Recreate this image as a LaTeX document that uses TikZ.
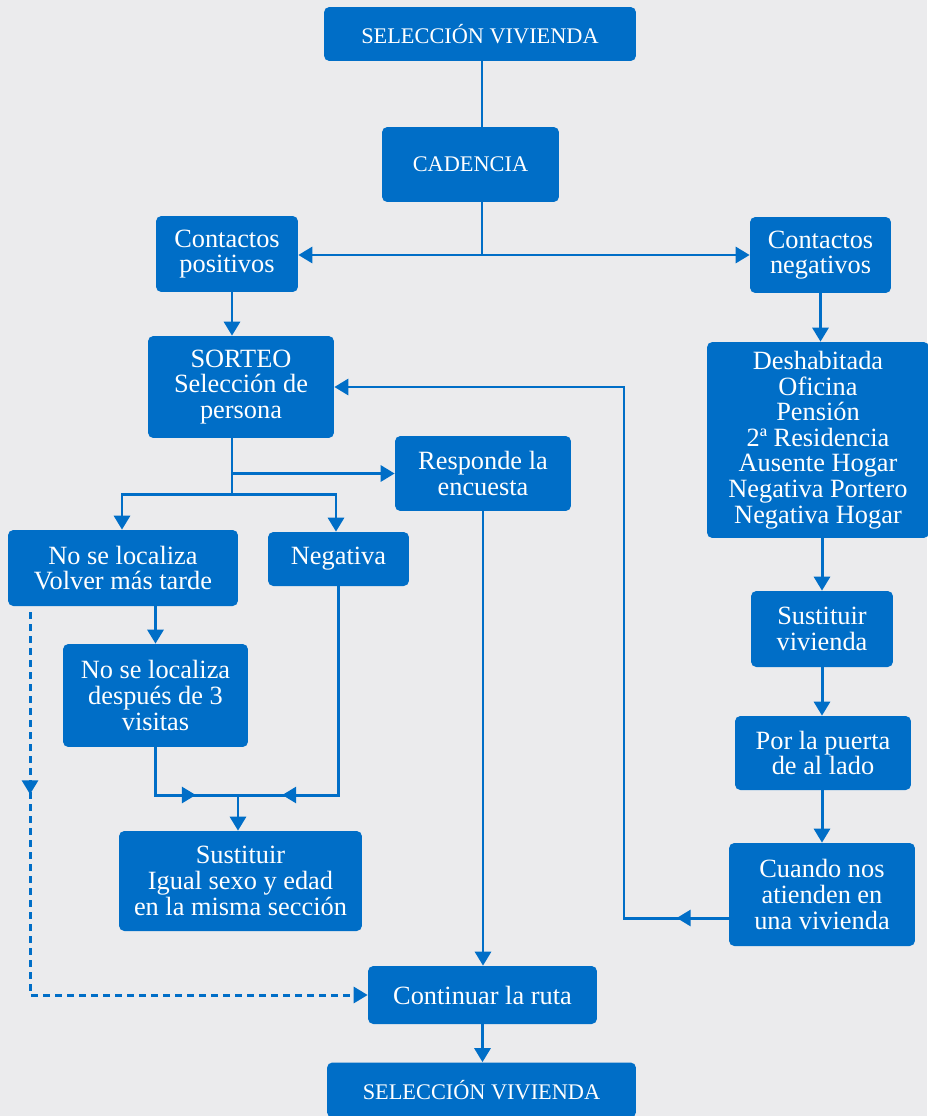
\documentclass[tikz,border=0pt]{standalone}
\usepackage{fontspec}
\setmainfont{Liberation Serif}
\usetikzlibrary{arrows.meta, decorations.markings}
\definecolor{boxblue}{HTML}{006EC7}
\definecolor{paper}{HTML}{EBEBED}

\begin{document}
\begin{tikzpicture}[
    x=0.02cm, y=-0.02cm,
    every node/.style={font=\fontsize{15}{14.6}\selectfont, align=center, text=white},
    flowbox/.style={rectangle, fill=boxblue, rounded corners=3pt, inner sep=2pt},
    capbox/.style={flowbox, font=\fontsize{12.7}{14}\selectfont},
    link/.style={color=boxblue, line width=1.7pt},
    arrow/.style={link, -{Triangle[length=0.28cm, width=0.32cm]}},
    midarrow/.style={postaction={decorate}, decoration={markings, mark=at position #1 with {\arrow{Triangle[length=0.28cm, width=0.32cm]}}}}
]

% Background
\fill[paper] (0,0) rectangle (927,1116);
\useasboundingbox (0,0) rectangle (927,1116);

% Boxes
\node (sel1) [capbox, minimum width=6.24cm, minimum height=1.08cm] at (480,34) {SELECCIÓN VIVIENDA};
\node (cadencia) [capbox, minimum width=3.54cm, minimum height=1.5cm] at (470.5,164.5) {CADENCIA};
\node (cpos) [flowbox, minimum width=2.84cm, minimum height=1.52cm] at (227,254) {Contactos\\positivos};
\node (cneg) [flowbox, minimum width=2.82cm, minimum height=1.52cm] at (820.5,255) {Contactos\\negativos};
\node (sorteo) [flowbox, minimum width=3.72cm, minimum height=2.04cm] at (241,387) {SORTEO\\Selección de\\persona};
\node (lista) [flowbox, minimum width=4.44cm, minimum height=3.92cm] at (818,440) {Deshabitada\\Oficina\\Pensión\\2ª Residencia\\Ausente Hogar\\Negativa Portero\\Negativa Hogar};
\node (responde) [flowbox, minimum width=3.52cm, minimum height=1.5cm] at (483,473.5) {Responde la\\encuesta};
\node (nolocal) [flowbox, minimum width=4.6cm, minimum height=1.52cm] at (123,568) {No se localiza\\Volver más tarde};
\node (negativa) [flowbox, minimum width=2.82cm, minimum height=1.08cm] at (338.5,559) {Negativa};
\node (nolocal3) [flowbox, minimum width=3.7cm, minimum height=2.06cm] at (155.5,695.5) {No se localiza\\después de 3\\visitas};
\node (sust1) [flowbox, minimum width=4.86cm, minimum height=2cm] at (240.5,881) {Sustituir\\Igual sexo y edad\\en la misma sección};
\node (sustviv) [flowbox, minimum width=2.84cm, minimum height=1.52cm] at (822,629) {Sustituir\\vivienda};
\node (puerta) [flowbox, minimum width=3.52cm, minimum height=1.48cm] at (823,753) {Por la puerta\\de al lado};
\node (cuando) [flowbox, minimum width=3.72cm, minimum height=2.06cm] at (822,894.5) {Cuando nos\\atienden en\\una vivienda};
\node (continuar) [flowbox, minimum width=4.58cm, minimum height=1.16cm] at (482.5,995) {Continuar la ruta};
\node (sel2) [capbox, minimum width=6.18cm, minimum height=1.1cm] at (481.5,1090) {SELECCIÓN VIVIENDA};

% Junctions
\coordinate (split) at (482,255);
\coordinate (fork) at (232,494);
\coordinate (join) at (238,795);
\coordinate (back) at (624,0);

% Arrows
\draw [link] ([xshift=0.04cm]sel1.south) -- ([xshift=0.04cm]sel1.south |- cadencia.north);
\draw [link] (cadencia.south -| split) -- (split);
\draw [arrow] (split) -- (cpos.east |- split);
\draw [arrow] (split) -- (cneg.west |- split);
\draw [arrow] ([xshift=0.1cm]cpos.south) -- ([xshift=0.1cm]cpos.south |- sorteo.north);
\draw [link] (sorteo.south -| fork) -- (fork);
\draw [arrow] (fork |- responde.west) -- (responde.west);
\draw [arrow] (fork) -| ([xshift=-0.02cm]nolocal.north);
\draw [arrow] (fork) -| ([xshift=-0.05cm]negativa.north);
\draw [arrow] (nolocal.south -| nolocal3.north) -- (nolocal3.north);
\draw [link, midarrow=1.76cm] (nolocal3.south) |- (join);
\draw [link, midarrow=5.3cm] (negativa.south) |- (join);
\draw [arrow] (join) -- (join |- sust1.north);
\draw [arrow] (responde.south) -- (responde.south |- continuar.north);
\draw [arrow] (continuar.south) -- (continuar.south |- sel2.north);
\draw [arrow, dashed, dash pattern=on 0.14cm off 0.1cm, midarrow=3.64cm] ([xshift=-1.86cm, yshift=-0.12cm]nolocal.south) |- (continuar.west);

% Negative contacts chain
\draw [arrow] (cneg.south) -- (cneg.south |- lista.north);
\draw [arrow] (sustviv.north |- lista.south) -- (sustviv.north);
\draw [arrow] (sustviv.south) -- (sustviv.south |- puerta.north);
\draw [arrow] (sustviv.south |- puerta.south) -- (sustviv.south |- cuando.north);
\draw [arrow, midarrow=1.04cm] ([yshift=-0.47cm]cuando.west) -| (back |- sorteo.east) -- (sorteo.east);

\end{tikzpicture}
\end{document}
